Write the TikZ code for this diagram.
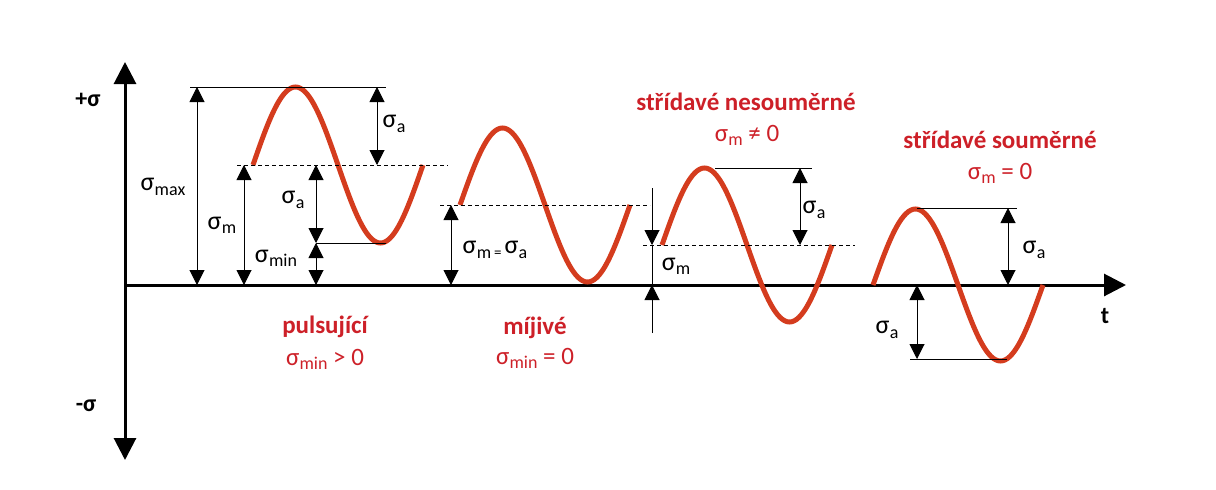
\documentclass[tikz,border=0pt]{standalone}
\usepackage{fontspec}
\setmainfont{Carlito}
\usetikzlibrary{arrows.meta}
\definecolor{wavered}{RGB}{212,60,30}
\definecolor{txtred}{RGB}{205,32,40}
\newcommand{\sg}[1]{σ\kern0.3pt\raisebox{-0.35ex}{\fontsize{18}{18}\selectfont #1}}
\tikzset{
  axis/.style={line width=3pt,-{Triangle[length=22pt,width=22pt]}},
  wave/.style={wavered,line width=5pt},
  dim/.style={line width=1pt,{Triangle[length=15pt,width=15pt]}-{Triangle[length=15pt,width=15pt]}},
  tip/.style={line width=1pt,-{Triangle[length=15pt,width=15pt]}},
  ref/.style={line width=1pt},
  dsh/.style={line width=1pt,dash pattern=on 4pt off 3pt},
  lbl/.style={font=\fontsize{26}{26}\selectfont,inner sep=0pt},
  head/.style={font=\fontsize{25}{28}\selectfont\bfseries,text=txtred,inner sep=0pt},
  cond/.style={font=\fontsize{25}{28}\selectfont,text=txtred,inner sep=0pt}
}
\begin{document}
\begin{tikzpicture}[x=1pt,y=-1pt]
\useasboundingbox (0,0) rectangle (1216,490);
% axes
\coordinate (O) at (125,285);
\coordinate (ytop) at (125,62);
\coordinate (ybot) at (125,460);
\coordinate (xend) at (1126,285);
\draw[axis] (O) -- (ytop);
\draw[axis] (O) -- (ybot);
\draw[axis] (O) -- (xend);
\node[lbl,font=\fontsize{24}{24}\selectfont\bfseries] (plus) at (88,100) {+σ};
\node[lbl,font=\fontsize{24}{24}\selectfont\bfseries] (minus) at (86,406) {-σ};
\node[lbl,font=\fontsize{24}{24}\selectfont\bfseries] (t) at (1105,316) {t};

% ---------- wave 1: pulsujici ----------
\draw[wave] plot[domain=0:360,samples=73,smooth] ({253+\x/360*170},{165-78*sin(\x)});
\coordinate (w1maxL) at (190,87);  \coordinate (w1maxR) at (386,87);
\coordinate (w1mL) at (237,165);   \coordinate (w1mR) at (448,165);
\coordinate (w1minL) at (316,243); \coordinate (w1minR) at (386,243);
\draw[ref] (w1maxL) -- (w1maxR);
\draw[dsh] (w1mL) -- (w1mR);
\draw[ref] (w1minL) -- (w1minR);
\coordinate (a1) at (197,87);  \coordinate (a1b) at (197,285);
\coordinate (a2) at (244,165); \coordinate (a2b) at (244,285);
\coordinate (a3) at (377,87);  \coordinate (a3b) at (377,165);
\coordinate (a4) at (316,165); \coordinate (a4b) at (316,243);
\coordinate (a5b) at (316,285);
\draw[dim] (a1) -- (a1b);
\draw[dim] (a2) -- (a2b);
\draw[dim] (a3) -- (a3b);
\draw[dim] (a4) -- (a4b);
\draw[dim] (a4b) -- (a5b);
\node[lbl] (smax) at (163,187) {\sg{max}};
\node[lbl] (sm1) at (222,225) {\sg{m}};
\node[lbl] (sa1) at (394,124) {\sg{a}};
\node[lbl] (sa2) at (293,200) {\sg{a}};
\node[lbl] (smin) at (276,258) {\sg{min}};
\node[head] (h1) at (325,327) {pulsující};
\node[cond] (c1) at (325,359) {\sg{min} > 0};

% ---------- wave 2: mijive ----------
\draw[wave] plot[domain=0:360,samples=73,smooth] ({460+\x/360*170},{205-77*sin(\x)});
\coordinate (w2mL) at (440,205); \coordinate (w2mR) at (650,205);
\draw[dsh] (w2mL) -- (w2mR);
\coordinate (b1) at (451,205); \coordinate (b1b) at (451,285);
\draw[dim] (b1) -- (b1b);
\node[lbl] (sma) at (495,250) {\sg{m}\kern3pt\raisebox{-0.3ex}{\fontsize{15}{15}\selectfont =}\kern3pt\relax σ\kern0.3pt\raisebox{-0.35ex}{\fontsize{18}{18}\selectfont a}};
\node[head] (h2) at (535,328) {míjivé};
\node[cond] (c2) at (535,358) {\sg{min} = 0};

% ---------- wave 3: stridave nesoumerne ----------
\draw[wave] plot[domain=0:360,samples=73,smooth] ({662+\x/360*170},{245-77*sin(\x)});
\coordinate (w3aL) at (715,168); \coordinate (w3aR) at (812,168);
\coordinate (w3mL) at (643,245); \coordinate (w3mR) at (855,245);
\draw[ref] (w3aL) -- (w3aR);
\draw[dsh] (w3mL) -- (w3mR);
\coordinate (c3a) at (800,168); \coordinate (c3b) at (800,245);
\draw[dim] (c3a) -- (c3b);
\coordinate (v3top) at (652,188); \coordinate (v3m) at (652,245);
\coordinate (v3z) at (652,285); \coordinate (v3bot) at (652,333);
\draw[tip] (v3top) -- (v3m);
\draw[tip] (v3bot) -- (v3z);
\draw[ref] (v3m) -- (v3z);
\node[lbl] (sa3) at (814,210) {\sg{a}};
\node[lbl] (sm3) at (676,266) {\sg{m}};
\node[head] (h3) at (746,102) {střídavé nesouměrné};
\node[cond] (c3) at (747,135) {\sg{m} ≠ 0};

% ---------- wave 4: stridave soumerne ----------
\draw[wave] plot[domain=0:360,samples=73,smooth] ({873+\x/360*170},{285-76*sin(\x)});
\coordinate (w4aL) at (917,208); \coordinate (w4aR) at (1017,208);
\coordinate (w4bL) at (910,359); \coordinate (w4bR) at (1007,359);
\draw[ref] (w4aL) -- (w4aR);
\draw[ref] (w4bL) -- (w4bR);
\coordinate (d1) at (1008,208); \coordinate (d1b) at (1008,285);
\coordinate (d2) at (917,285);  \coordinate (d2b) at (917,359);
\draw[dim] (d1) -- (d1b);
\draw[dim] (d2) -- (d2b);
\node[lbl] (sa4) at (1034,250) {\sg{a}};
\node[lbl] (sa5) at (887,330) {\sg{a}};
\node[head] (h4) at (1000,140) {střídavé souměrné};
\node[cond] (c4) at (1000,173) {\sg{m} = 0};
\end{tikzpicture}
\end{document}
